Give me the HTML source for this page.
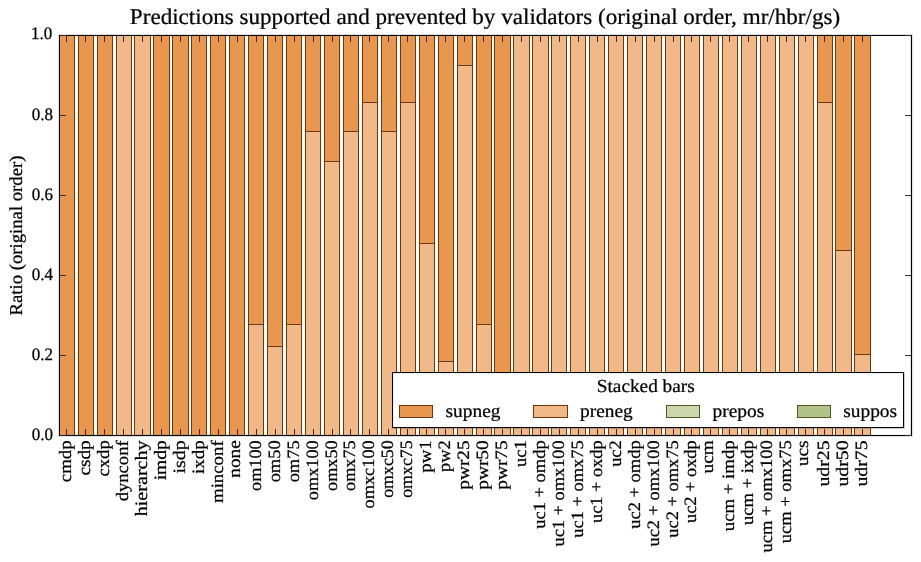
<!DOCTYPE html><html><head><meta charset="utf-8"><style>html,body{margin:0;padding:0;background:#fff;width:921px;height:562px;overflow:hidden}svg{display:block}text{font-family:"Liberation Serif",serif;fill:#000;text-rendering:geometricPrecision;stroke:#000;stroke-width:0.25px}</style></head><body>
<svg width="921" height="562" viewBox="0 0 921 562" style="will-change:transform">
<rect x="0" y="0" width="921" height="562" fill="#fff"/>
<g shape-rendering="crispEdges">
<rect x="59" y="35" width="16" height="401" fill="#e9964f"/>
<rect x="59" y="35" width="1" height="401" fill="#6e360a"/>
<rect x="74" y="35" width="1" height="401" fill="#6e360a"/>
<rect x="78" y="35" width="16" height="401" fill="#e9964f"/>
<rect x="78" y="35" width="1" height="401" fill="#6e360a"/>
<rect x="93" y="35" width="1" height="401" fill="#6e360a"/>
<rect x="97" y="35" width="16" height="401" fill="#e9964f"/>
<rect x="97" y="35" width="1" height="401" fill="#6e360a"/>
<rect x="112" y="35" width="1" height="401" fill="#6e360a"/>
<rect x="116" y="35" width="16" height="401" fill="#f1b888"/>
<rect x="116" y="35" width="1" height="401" fill="#6e360a"/>
<rect x="131" y="35" width="1" height="401" fill="#6e360a"/>
<rect x="134" y="35" width="17" height="401" fill="#f1b888"/>
<rect x="134" y="35" width="1" height="401" fill="#6e360a"/>
<rect x="150" y="35" width="1" height="401" fill="#6e360a"/>
<rect x="153" y="35" width="17" height="401" fill="#e9964f"/>
<rect x="153" y="35" width="1" height="401" fill="#6e360a"/>
<rect x="169" y="35" width="1" height="401" fill="#6e360a"/>
<rect x="172" y="35" width="17" height="401" fill="#e9964f"/>
<rect x="172" y="35" width="1" height="401" fill="#6e360a"/>
<rect x="188" y="35" width="1" height="401" fill="#6e360a"/>
<rect x="191" y="35" width="16" height="401" fill="#e9964f"/>
<rect x="191" y="35" width="1" height="401" fill="#6e360a"/>
<rect x="206" y="35" width="1" height="401" fill="#6e360a"/>
<rect x="210" y="35" width="16" height="401" fill="#e9964f"/>
<rect x="210" y="35" width="1" height="401" fill="#6e360a"/>
<rect x="225" y="35" width="1" height="401" fill="#6e360a"/>
<rect x="229" y="35" width="16" height="401" fill="#e9964f"/>
<rect x="229" y="35" width="1" height="401" fill="#6e360a"/>
<rect x="244" y="35" width="1" height="401" fill="#6e360a"/>
<rect x="248" y="324" width="16" height="112" fill="#f1b888"/>
<rect x="248" y="35" width="16" height="290" fill="#e9964f"/>
<rect x="248" y="35" width="1" height="401" fill="#6e360a"/>
<rect x="263" y="35" width="1" height="401" fill="#6e360a"/>
<rect x="248" y="324" width="16" height="1" fill="#6e360a"/>
<rect x="267" y="346" width="16" height="90" fill="#f1b888"/>
<rect x="267" y="35" width="16" height="312" fill="#e9964f"/>
<rect x="267" y="35" width="1" height="401" fill="#6e360a"/>
<rect x="282" y="35" width="1" height="401" fill="#6e360a"/>
<rect x="267" y="346" width="16" height="1" fill="#6e360a"/>
<rect x="286" y="324" width="16" height="112" fill="#f1b888"/>
<rect x="286" y="35" width="16" height="290" fill="#e9964f"/>
<rect x="286" y="35" width="1" height="401" fill="#6e360a"/>
<rect x="301" y="35" width="1" height="401" fill="#6e360a"/>
<rect x="286" y="324" width="16" height="1" fill="#6e360a"/>
<rect x="305" y="131" width="16" height="305" fill="#f1b888"/>
<rect x="305" y="35" width="16" height="97" fill="#e9964f"/>
<rect x="305" y="35" width="1" height="401" fill="#6e360a"/>
<rect x="320" y="35" width="1" height="401" fill="#6e360a"/>
<rect x="305" y="131" width="16" height="1" fill="#6e360a"/>
<rect x="324" y="161" width="16" height="275" fill="#f1b888"/>
<rect x="324" y="35" width="16" height="127" fill="#e9964f"/>
<rect x="324" y="35" width="1" height="401" fill="#6e360a"/>
<rect x="339" y="35" width="1" height="401" fill="#6e360a"/>
<rect x="324" y="161" width="16" height="1" fill="#6e360a"/>
<rect x="343" y="131" width="16" height="305" fill="#f1b888"/>
<rect x="343" y="35" width="16" height="97" fill="#e9964f"/>
<rect x="343" y="35" width="1" height="401" fill="#6e360a"/>
<rect x="358" y="35" width="1" height="401" fill="#6e360a"/>
<rect x="343" y="131" width="16" height="1" fill="#6e360a"/>
<rect x="362" y="102" width="16" height="334" fill="#f1b888"/>
<rect x="362" y="35" width="16" height="68" fill="#e9964f"/>
<rect x="362" y="35" width="1" height="401" fill="#6e360a"/>
<rect x="377" y="35" width="1" height="401" fill="#6e360a"/>
<rect x="362" y="102" width="16" height="1" fill="#6e360a"/>
<rect x="381" y="131" width="16" height="305" fill="#f1b888"/>
<rect x="381" y="35" width="16" height="97" fill="#e9964f"/>
<rect x="381" y="35" width="1" height="401" fill="#6e360a"/>
<rect x="396" y="35" width="1" height="401" fill="#6e360a"/>
<rect x="381" y="131" width="16" height="1" fill="#6e360a"/>
<rect x="400" y="102" width="16" height="334" fill="#f1b888"/>
<rect x="400" y="35" width="16" height="68" fill="#e9964f"/>
<rect x="400" y="35" width="1" height="401" fill="#6e360a"/>
<rect x="415" y="35" width="1" height="401" fill="#6e360a"/>
<rect x="400" y="102" width="16" height="1" fill="#6e360a"/>
<rect x="419" y="243" width="16" height="193" fill="#f1b888"/>
<rect x="419" y="35" width="16" height="209" fill="#e9964f"/>
<rect x="419" y="35" width="1" height="401" fill="#6e360a"/>
<rect x="434" y="35" width="1" height="401" fill="#6e360a"/>
<rect x="419" y="243" width="16" height="1" fill="#6e360a"/>
<rect x="438" y="361" width="16" height="75" fill="#f1b888"/>
<rect x="438" y="35" width="16" height="327" fill="#e9964f"/>
<rect x="438" y="35" width="1" height="401" fill="#6e360a"/>
<rect x="453" y="35" width="1" height="401" fill="#6e360a"/>
<rect x="438" y="361" width="16" height="1" fill="#6e360a"/>
<rect x="457" y="65" width="16" height="371" fill="#f1b888"/>
<rect x="457" y="35" width="16" height="31" fill="#e9964f"/>
<rect x="457" y="35" width="1" height="401" fill="#6e360a"/>
<rect x="472" y="35" width="1" height="401" fill="#6e360a"/>
<rect x="457" y="65" width="16" height="1" fill="#6e360a"/>
<rect x="476" y="324" width="16" height="112" fill="#f1b888"/>
<rect x="476" y="35" width="16" height="290" fill="#e9964f"/>
<rect x="476" y="35" width="1" height="401" fill="#6e360a"/>
<rect x="491" y="35" width="1" height="401" fill="#6e360a"/>
<rect x="476" y="324" width="16" height="1" fill="#6e360a"/>
<rect x="494" y="400" width="17" height="36" fill="#f1b888"/>
<rect x="494" y="35" width="17" height="366" fill="#e9964f"/>
<rect x="494" y="35" width="1" height="401" fill="#6e360a"/>
<rect x="510" y="35" width="1" height="401" fill="#6e360a"/>
<rect x="494" y="400" width="17" height="1" fill="#6e360a"/>
<rect x="513" y="35" width="17" height="401" fill="#f1b888"/>
<rect x="513" y="35" width="1" height="401" fill="#6e360a"/>
<rect x="529" y="35" width="1" height="401" fill="#6e360a"/>
<rect x="532" y="35" width="17" height="401" fill="#f1b888"/>
<rect x="532" y="35" width="1" height="401" fill="#6e360a"/>
<rect x="548" y="35" width="1" height="401" fill="#6e360a"/>
<rect x="551" y="35" width="16" height="401" fill="#f1b888"/>
<rect x="551" y="35" width="1" height="401" fill="#6e360a"/>
<rect x="566" y="35" width="1" height="401" fill="#6e360a"/>
<rect x="570" y="35" width="16" height="401" fill="#f1b888"/>
<rect x="570" y="35" width="1" height="401" fill="#6e360a"/>
<rect x="585" y="35" width="1" height="401" fill="#6e360a"/>
<rect x="589" y="35" width="16" height="401" fill="#f1b888"/>
<rect x="589" y="35" width="1" height="401" fill="#6e360a"/>
<rect x="604" y="35" width="1" height="401" fill="#6e360a"/>
<rect x="608" y="35" width="16" height="401" fill="#f1b888"/>
<rect x="608" y="35" width="1" height="401" fill="#6e360a"/>
<rect x="623" y="35" width="1" height="401" fill="#6e360a"/>
<rect x="627" y="35" width="16" height="401" fill="#f1b888"/>
<rect x="627" y="35" width="1" height="401" fill="#6e360a"/>
<rect x="642" y="35" width="1" height="401" fill="#6e360a"/>
<rect x="646" y="35" width="16" height="401" fill="#f1b888"/>
<rect x="646" y="35" width="1" height="401" fill="#6e360a"/>
<rect x="661" y="35" width="1" height="401" fill="#6e360a"/>
<rect x="665" y="35" width="16" height="401" fill="#f1b888"/>
<rect x="665" y="35" width="1" height="401" fill="#6e360a"/>
<rect x="680" y="35" width="1" height="401" fill="#6e360a"/>
<rect x="684" y="35" width="16" height="401" fill="#f1b888"/>
<rect x="684" y="35" width="1" height="401" fill="#6e360a"/>
<rect x="699" y="35" width="1" height="401" fill="#6e360a"/>
<rect x="703" y="35" width="16" height="401" fill="#f1b888"/>
<rect x="703" y="35" width="1" height="401" fill="#6e360a"/>
<rect x="718" y="35" width="1" height="401" fill="#6e360a"/>
<rect x="722" y="35" width="16" height="401" fill="#f1b888"/>
<rect x="722" y="35" width="1" height="401" fill="#6e360a"/>
<rect x="737" y="35" width="1" height="401" fill="#6e360a"/>
<rect x="741" y="35" width="16" height="401" fill="#f1b888"/>
<rect x="741" y="35" width="1" height="401" fill="#6e360a"/>
<rect x="756" y="35" width="1" height="401" fill="#6e360a"/>
<rect x="760" y="35" width="16" height="401" fill="#f1b888"/>
<rect x="760" y="35" width="1" height="401" fill="#6e360a"/>
<rect x="775" y="35" width="1" height="401" fill="#6e360a"/>
<rect x="779" y="35" width="16" height="401" fill="#f1b888"/>
<rect x="779" y="35" width="1" height="401" fill="#6e360a"/>
<rect x="794" y="35" width="1" height="401" fill="#6e360a"/>
<rect x="798" y="35" width="16" height="401" fill="#f1b888"/>
<rect x="798" y="35" width="1" height="401" fill="#6e360a"/>
<rect x="813" y="35" width="1" height="401" fill="#6e360a"/>
<rect x="817" y="102" width="16" height="334" fill="#f1b888"/>
<rect x="817" y="35" width="16" height="68" fill="#e9964f"/>
<rect x="817" y="35" width="1" height="401" fill="#6e360a"/>
<rect x="832" y="35" width="1" height="401" fill="#6e360a"/>
<rect x="817" y="102" width="16" height="1" fill="#6e360a"/>
<rect x="835" y="250" width="17" height="186" fill="#f1b888"/>
<rect x="835" y="35" width="17" height="216" fill="#e9964f"/>
<rect x="835" y="35" width="1" height="401" fill="#6e360a"/>
<rect x="851" y="35" width="1" height="401" fill="#6e360a"/>
<rect x="835" y="250" width="17" height="1" fill="#6e360a"/>
<rect x="854" y="354" width="17" height="82" fill="#f1b888"/>
<rect x="854" y="35" width="17" height="320" fill="#e9964f"/>
<rect x="854" y="35" width="1" height="401" fill="#6e360a"/>
<rect x="870" y="35" width="1" height="401" fill="#6e360a"/>
<rect x="854" y="354" width="17" height="1" fill="#6e360a"/>
</g>
<g shape-rendering="crispEdges" fill="#000" fill-opacity="0.12">
<rect x="58" y="34" width="855" height="1"/>
<rect x="58" y="436" width="855" height="1"/>
<rect x="58" y="35" width="1" height="401"/>
<rect x="912" y="35" width="1" height="401"/>
<rect x="910" y="36" width="1" height="399"/>
<rect x="59" y="434" width="853" height="1" fill-opacity="0.06"/>
</g>
<g shape-rendering="crispEdges" fill="#000">
<rect x="59" y="35" width="853" height="1"/>
<rect x="59" y="435" width="853" height="1"/>
<rect x="59" y="35" width="1" height="401"/>
<rect x="911" y="35" width="1" height="401"/>
</g>
<g shape-rendering="crispEdges" fill="#2e2e2e">
<rect x="66" y="36" width="1" height="6"/>
<rect x="66" y="429" width="1" height="6"/>
<rect x="85" y="36" width="1" height="6"/>
<rect x="85" y="429" width="1" height="6"/>
<rect x="104" y="36" width="1" height="6"/>
<rect x="104" y="429" width="1" height="6"/>
<rect x="123" y="36" width="1" height="6"/>
<rect x="123" y="429" width="1" height="6"/>
<rect x="142" y="36" width="1" height="6"/>
<rect x="142" y="429" width="1" height="6"/>
<rect x="161" y="36" width="1" height="6"/>
<rect x="161" y="429" width="1" height="6"/>
<rect x="180" y="36" width="1" height="6"/>
<rect x="180" y="429" width="1" height="6"/>
<rect x="199" y="36" width="1" height="6"/>
<rect x="199" y="429" width="1" height="6"/>
<rect x="218" y="36" width="1" height="6"/>
<rect x="218" y="429" width="1" height="6"/>
<rect x="237" y="36" width="1" height="6"/>
<rect x="237" y="429" width="1" height="6"/>
<rect x="256" y="36" width="1" height="6"/>
<rect x="256" y="429" width="1" height="6"/>
<rect x="275" y="36" width="1" height="6"/>
<rect x="275" y="429" width="1" height="6"/>
<rect x="294" y="36" width="1" height="6"/>
<rect x="294" y="429" width="1" height="6"/>
<rect x="313" y="36" width="1" height="6"/>
<rect x="313" y="429" width="1" height="6"/>
<rect x="332" y="36" width="1" height="6"/>
<rect x="332" y="429" width="1" height="6"/>
<rect x="350" y="36" width="1" height="6"/>
<rect x="350" y="429" width="1" height="6"/>
<rect x="369" y="36" width="1" height="6"/>
<rect x="369" y="429" width="1" height="6"/>
<rect x="388" y="36" width="1" height="6"/>
<rect x="388" y="429" width="1" height="6"/>
<rect x="407" y="36" width="1" height="6"/>
<rect x="407" y="429" width="1" height="6"/>
<rect x="426" y="36" width="1" height="6"/>
<rect x="426" y="429" width="1" height="6"/>
<rect x="445" y="36" width="1" height="6"/>
<rect x="445" y="429" width="1" height="6"/>
<rect x="464" y="36" width="1" height="6"/>
<rect x="464" y="429" width="1" height="6"/>
<rect x="483" y="36" width="1" height="6"/>
<rect x="483" y="429" width="1" height="6"/>
<rect x="502" y="36" width="1" height="6"/>
<rect x="502" y="429" width="1" height="6"/>
<rect x="521" y="36" width="1" height="6"/>
<rect x="521" y="429" width="1" height="6"/>
<rect x="540" y="36" width="1" height="6"/>
<rect x="540" y="429" width="1" height="6"/>
<rect x="559" y="36" width="1" height="6"/>
<rect x="559" y="429" width="1" height="6"/>
<rect x="578" y="36" width="1" height="6"/>
<rect x="578" y="429" width="1" height="6"/>
<rect x="597" y="36" width="1" height="6"/>
<rect x="597" y="429" width="1" height="6"/>
<rect x="616" y="36" width="1" height="6"/>
<rect x="616" y="429" width="1" height="6"/>
<rect x="635" y="36" width="1" height="6"/>
<rect x="635" y="429" width="1" height="6"/>
<rect x="654" y="36" width="1" height="6"/>
<rect x="654" y="429" width="1" height="6"/>
<rect x="673" y="36" width="1" height="6"/>
<rect x="673" y="429" width="1" height="6"/>
<rect x="691" y="36" width="1" height="6"/>
<rect x="691" y="429" width="1" height="6"/>
<rect x="710" y="36" width="1" height="6"/>
<rect x="710" y="429" width="1" height="6"/>
<rect x="729" y="36" width="1" height="6"/>
<rect x="729" y="429" width="1" height="6"/>
<rect x="748" y="36" width="1" height="6"/>
<rect x="748" y="429" width="1" height="6"/>
<rect x="767" y="36" width="1" height="6"/>
<rect x="767" y="429" width="1" height="6"/>
<rect x="786" y="36" width="1" height="6"/>
<rect x="786" y="429" width="1" height="6"/>
<rect x="805" y="36" width="1" height="6"/>
<rect x="805" y="429" width="1" height="6"/>
<rect x="824" y="36" width="1" height="6"/>
<rect x="824" y="429" width="1" height="6"/>
<rect x="843" y="36" width="1" height="6"/>
<rect x="843" y="429" width="1" height="6"/>
<rect x="862" y="36" width="1" height="6"/>
<rect x="862" y="429" width="1" height="6"/>
<rect x="60" y="435" width="6" height="1"/>
<rect x="905" y="435" width="6" height="1"/>
<rect x="60" y="355" width="6" height="1"/>
<rect x="905" y="355" width="6" height="1"/>
<rect x="60" y="275" width="6" height="1"/>
<rect x="905" y="275" width="6" height="1"/>
<rect x="60" y="195" width="6" height="1"/>
<rect x="905" y="195" width="6" height="1"/>
<rect x="60" y="115" width="6" height="1"/>
<rect x="905" y="115" width="6" height="1"/>
<rect x="60" y="35" width="6" height="1"/>
<rect x="905" y="35" width="6" height="1"/>
</g>
<text transform="translate(485.0,23.9) scale(1,0.97)" font-size="23.1" text-anchor="middle">Predictions supported and prevented by validators (original order, mr/hbr/gs)</text>
<text transform="translate(22.4,235.5) rotate(-90) scale(1,0.97)" font-size="18.7" text-anchor="middle">Ratio (original order)</text>
<text transform="translate(53.0,439.60) scale(1,1.03)" font-size="17.0" text-anchor="end">0.0</text>
<text transform="translate(53.0,359.70) scale(1,1.03)" font-size="17.0" text-anchor="end">0.2</text>
<text transform="translate(53.0,279.70) scale(1,1.03)" font-size="17.0" text-anchor="end">0.4</text>
<text transform="translate(53.0,199.70) scale(1,1.03)" font-size="17.0" text-anchor="end">0.6</text>
<text transform="translate(53.0,119.70) scale(1,1.03)" font-size="17.0" text-anchor="end">0.8</text>
<text transform="translate(52.2,39.10) scale(1,1.03)" font-size="17.0" text-anchor="end">1.0</text>
<text transform="translate(71.25,440.3) rotate(-90) scale(1.0308,0.95)" font-size="18.3" text-anchor="end">cmdp</text>
<text transform="translate(90.25,440.3) rotate(-90) scale(1.0531,0.95)" font-size="18.3" text-anchor="end">csdp</text>
<text transform="translate(109.25,440.3) rotate(-90) scale(1.0176,0.95)" font-size="18.3" text-anchor="end">cxdp</text>
<text transform="translate(128.25,440.3) rotate(-90) scale(1.0190,0.95)" font-size="18.3" text-anchor="end">dynconf</text>
<text transform="translate(147.25,440.3) rotate(-90) scale(1.1015,0.95)" font-size="18.3" text-anchor="end">hierarchy</text>
<text transform="translate(166.25,440.3) rotate(-90) scale(1.0639,0.95)" font-size="18.3" text-anchor="end">imdp</text>
<text transform="translate(185.25,440.3) rotate(-90) scale(1.0862,0.95)" font-size="18.3" text-anchor="end">isdp</text>
<text transform="translate(204.25,440.3) rotate(-90) scale(1.0355,0.95)" font-size="18.3" text-anchor="end">ixdp</text>
<text transform="translate(223.25,440.3) rotate(-90) scale(1.0288,0.95)" font-size="18.3" text-anchor="end">minconf</text>
<text transform="translate(239.96,440.3) rotate(-90) scale(1.0529,0.95)" font-size="18.3" text-anchor="end">none</text>
<text transform="translate(260.81,440.3) rotate(-90) scale(0.9980,0.95)" font-size="18.3" text-anchor="end">om100</text>
<text transform="translate(279.81,440.3) rotate(-90) scale(1.0100,0.95)" font-size="18.3" text-anchor="end">om50</text>
<text transform="translate(298.81,440.3) rotate(-90) scale(1.0100,0.95)" font-size="18.3" text-anchor="end">om75</text>
<text transform="translate(317.81,440.3) rotate(-90) scale(0.9983,0.95)" font-size="18.3" text-anchor="end">omx100</text>
<text transform="translate(336.81,440.3) rotate(-90) scale(0.9980,0.95)" font-size="18.3" text-anchor="end">omx50</text>
<text transform="translate(354.81,440.3) rotate(-90) scale(0.9980,0.95)" font-size="18.3" text-anchor="end">omx75</text>
<text transform="translate(373.81,440.3) rotate(-90) scale(1.0015,0.95)" font-size="18.3" text-anchor="end">omxc100</text>
<text transform="translate(392.81,440.3) rotate(-90) scale(0.9772,0.95)" font-size="18.3" text-anchor="end">omxc50</text>
<text transform="translate(411.81,440.3) rotate(-90) scale(0.9772,0.95)" font-size="18.3" text-anchor="end">omxc75</text>
<text transform="translate(430.81,440.3) rotate(-90) scale(1.0267,0.95)" font-size="18.3" text-anchor="end">pw1</text>
<text transform="translate(449.81,440.3) rotate(-90) scale(1.0067,0.95)" font-size="18.3" text-anchor="end">pw2</text>
<text transform="translate(468.81,440.3) rotate(-90) scale(1.0578,0.95)" font-size="18.3" text-anchor="end">pwr25</text>
<text transform="translate(487.81,440.3) rotate(-90) scale(1.0578,0.95)" font-size="18.3" text-anchor="end">pwr50</text>
<text transform="translate(506.81,440.3) rotate(-90) scale(1.0578,0.95)" font-size="18.3" text-anchor="end">pwr75</text>
<text transform="translate(525.81,440.3) rotate(-90) scale(1.0080,0.95)" font-size="18.3" text-anchor="end">uc1</text>
<text transform="translate(545.25,440.3) rotate(-90) scale(1.0105,0.95)" font-size="18.3" text-anchor="end">uc1 + omdp</text>
<text transform="translate(563.81,440.3) rotate(-90) scale(1.0038,0.95)" font-size="18.3" text-anchor="end">uc1 + omx100</text>
<text transform="translate(582.81,440.3) rotate(-90) scale(1.0074,0.95)" font-size="18.3" text-anchor="end">uc1 + omx75</text>
<text transform="translate(602.25,440.3) rotate(-90) scale(1.0037,0.95)" font-size="18.3" text-anchor="end">uc1 + oxdp</text>
<text transform="translate(620.81,440.3) rotate(-90) scale(1.0040,0.95)" font-size="18.3" text-anchor="end">uc2</text>
<text transform="translate(640.25,440.3) rotate(-90) scale(1.0105,0.95)" font-size="18.3" text-anchor="end">uc2 + omdp</text>
<text transform="translate(658.81,440.3) rotate(-90) scale(1.0038,0.95)" font-size="18.3" text-anchor="end">uc2 + omx100</text>
<text transform="translate(677.81,440.3) rotate(-90) scale(1.0074,0.95)" font-size="18.3" text-anchor="end">uc2 + omx75</text>
<text transform="translate(696.25,440.3) rotate(-90) scale(1.0037,0.95)" font-size="18.3" text-anchor="end">uc2 + oxdp</text>
<text transform="translate(712.96,440.3) rotate(-90) scale(1.0533,0.95)" font-size="18.3" text-anchor="end">ucm</text>
<text transform="translate(734.25,440.3) rotate(-90) scale(1.0276,0.95)" font-size="18.3" text-anchor="end">ucm + imdp</text>
<text transform="translate(753.25,440.3) rotate(-90) scale(1.0146,0.95)" font-size="18.3" text-anchor="end">ucm + ixdp</text>
<text transform="translate(771.81,440.3) rotate(-90) scale(1.0128,0.95)" font-size="18.3" text-anchor="end">ucm + omx100</text>
<text transform="translate(790.81,440.3) rotate(-90) scale(1.0130,0.95)" font-size="18.3" text-anchor="end">ucm + omx75</text>
<text transform="translate(807.96,440.3) rotate(-90) scale(1.0652,0.95)" font-size="18.3" text-anchor="end">ucs</text>
<text transform="translate(829.25,440.3) rotate(-90) scale(1.0854,0.95)" font-size="18.3" text-anchor="end">udr25</text>
<text transform="translate(848.25,440.3) rotate(-90) scale(1.0854,0.95)" font-size="18.3" text-anchor="end">udr50</text>
<text transform="translate(867.25,440.3) rotate(-90) scale(1.0854,0.95)" font-size="18.3" text-anchor="end">udr75</text>
<g shape-rendering="crispEdges">
<rect x="392" y="372" width="512" height="56" fill="#000"/>
<rect x="393" y="373" width="510" height="54" fill="#fff"/>
<rect x="392" y="428" width="513" height="1" fill="#000" fill-opacity="0.2"/>
<rect x="904" y="372" width="1" height="56" fill="#000" fill-opacity="0.2"/>
<rect x="393" y="373" width="510" height="1" fill="#000" fill-opacity="0.06"/>
<rect x="393" y="373" width="1" height="54" fill="#000" fill-opacity="0.06"/>
<rect x="399" y="405" width="34" height="13" fill="#6e360a"/>
<rect x="400" y="406" width="32" height="11" fill="#e9964f"/>
<rect x="533" y="405" width="35" height="13" fill="#6e360a"/>
<rect x="534" y="406" width="33" height="11" fill="#f1b888"/>
<rect x="666" y="405" width="34" height="13" fill="#4d5a22"/>
<rect x="667" y="406" width="32" height="11" fill="#cdd7ae"/>
<rect x="797" y="405" width="34" height="13" fill="#4d5a22"/>
<rect x="798" y="406" width="32" height="11" fill="#b3c286"/>
</g>
<text transform="translate(645.75,391.9) scale(1,0.95)" font-size="19.3" text-anchor="middle">Stacked bars</text>
<text transform="translate(445.5,416.6) scale(1,0.95)" font-size="19.4">supneg</text>
<text transform="translate(580,416.6) scale(1,0.95)" font-size="19.4">preneg</text>
<text transform="translate(712.5,416.6) scale(1,0.95)" font-size="19.4">prepos</text>
<text transform="translate(843.2,416.6) scale(1,0.95)" font-size="19.4">suppos</text>
</svg></body></html>
